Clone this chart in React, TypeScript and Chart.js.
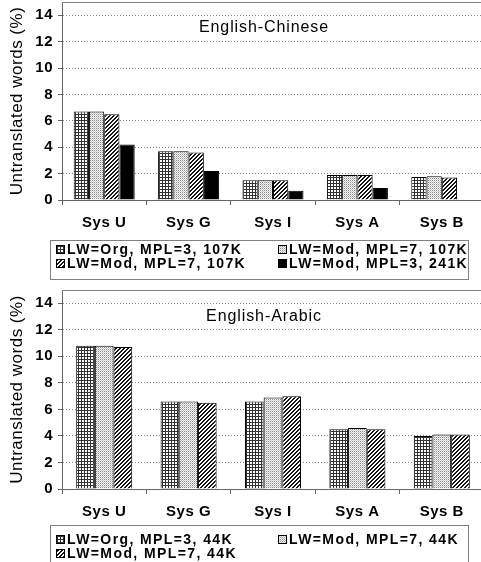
import React, { useEffect, useRef } from 'react';
import { Chart, registerables } from 'chart.js';
Chart.register(...registerables);

const categories = ['Sys U', 'Sys G', 'Sys I', 'Sys A', 'Sys B'];
const yTicks = [0, 2, 4, 6, 8, 10, 12, 14];
const yMax = 15;
const yTitle = 'Untranslated words (%)';

const zhTitle = 'English-Chinese';
const zhLabels = ['LW=Org, MPL=3, 107K', 'LW=Mod, MPL=7, 107K', 'LW=Mod, MPL=7, 107K', 'LW=Mod, MPL=3, 241K'];
const zhOrg3 = [6.7, 3.7, 1.5, 1.9, 1.75];
const zhMod7a = [6.7, 3.7, 1.5, 1.9, 1.8];
const zhMod7b = [6.5, 3.6, 1.5, 1.9, 1.7];
const zhMod3big = [4.2, 2.2, 0.7, 0.9, null];

const arTitle = 'English-Arabic';
const arLabels = ['LW=Org, MPL=3, 44K', 'LW=Mod, MPL=7, 44K', 'LW=Mod, MPL=7, 44K'];
const arOrg3 = [10.8, 6.6, 6.6, 4.5, 4.0];
const arMod7a = [10.8, 6.6, 6.9, 4.6, 4.1];
const arMod7b = [10.7, 6.5, 7.0, 4.5, 4.1];

const FONT = "'Liberation Sans', Arial, sans-serif";

function makePattern(kind: string): CanvasPattern | string {
  if (kind === 'solid') return '#000';
  const c = document.createElement('canvas');
  const size = kind === 'grid' ? 3 : kind === 'dots' ? 2 : 4;
  c.width = size; c.height = size;
  const ctx = c.getContext('2d')!;
  const img = ctx.createImageData(size, size);
  for (let y = 0; y < size; y++) {
    for (let x = 0; x < size; x++) {
      let v = 255;
      if (kind === 'grid') v = (x === 0 || y === 0) ? 50 : 255;
      else if (kind === 'dots') v = (x === 0 && y === 0) ? 140 : (x === 1 && y === 1) ? 200 : 245;
      else if (kind === 'diag') v = ((x + y) % 4 === 0 || (x + y) % 4 === 1) ? 20 : 255;
      const i = (y * size + x) * 4;
      img.data[i] = v; img.data[i + 1] = v; img.data[i + 2] = v; img.data[i + 3] = 255;
    }
  }
  ctx.putImageData(img, 0, 0);
  const p = ctx.createPattern(c, 'repeat');
  return p || '#888';
}

type PanelProps = {
  top: number;
  height: number;
  padTop: number;
  padBottom: number;
  title: string;
  titleY: number;
  labels: string[];
  series: (number | null)[][];
  kinds: string[];
  catPct: number;
  legendBox: { x: number; y: number; w: number; h: number };
  legendCols: number[];
  legendRows: number[];
};

function Panel(props: PanelProps) {
  const ref = useRef<HTMLCanvasElement>(null);
  useEffect(() => {
    const canvas = ref.current!;
    const fills = props.kinds.map(makePattern);
    const overlay = {
      id: 'overlay',
      beforeDraw(chart: any) {
        chart.ctx.letterSpacing = '0.5px';
      },
      afterDraw(chart: any) {
        const ctx = chart.ctx as CanvasRenderingContext2D;
        const a = chart.chartArea;
        ctx.save();
        // top frame
        ctx.strokeStyle = '#808080';
        ctx.lineWidth = 1;
        ctx.beginPath();
        ctx.moveTo(a.left, Math.round(a.top) + 0.5);
        ctx.lineTo(a.right, Math.round(a.top) + 0.5);
        ctx.stroke();
        // title
        ctx.fillStyle = '#000';
        ctx.font = `16px ${FONT}`;
        (ctx as any).letterSpacing = '0.9px';
        ctx.textAlign = 'center';
        ctx.textBaseline = 'middle';
        ctx.fillText(props.title, 264, props.titleY);
        // legend
        const b = props.legendBox;
        ctx.fillStyle = '#fff';
        ctx.fillRect(b.x, b.y, b.w, b.h);
        ctx.strokeStyle = '#808080';
        ctx.strokeRect(b.x + 0.5, b.y + 0.5, b.w, b.h);
        ctx.font = `bold 14px ${FONT}`;
        (ctx as any).letterSpacing = '1.4px';
        ctx.textAlign = 'left';
        props.labels.forEach((lab, i) => {
          const sx = props.legendCols[i % 2];
          const sy = props.legendRows[Math.floor(i / 2)];
          ctx.fillStyle = fills[i] as any;
          ctx.fillRect(sx, sy - 4, 9, 9);
          ctx.strokeStyle = '#000';
          ctx.strokeRect(sx + 0.5, sy - 3.5, 8, 8);
          ctx.fillStyle = '#000';
          ctx.fillText(lab, sx + 11, sy + 1);
        });
        ctx.restore();
        (ctx as any).letterSpacing = '0px';
      },
    };
    const chart = new Chart(canvas, {
      type: 'bar',
      data: {
        labels: categories,
        datasets: props.series.map((d, i) => ({
          label: props.labels[i],
          data: d,
          backgroundColor: fills[i] as any,
          borderColor: '#000',
          borderWidth: 1,
          categoryPercentage: props.catPct,
          barPercentage: 1,
        })),
      },
      options: {
        responsive: false,
        animation: false,
        layout: { padding: { left: 0, top: props.padTop, right: 6, bottom: props.padBottom } },
        plugins: {
          legend: { display: false },
          title: { display: false },
          tooltip: { enabled: false },
        },
        scales: {
          x: {
            type: 'category',
            grid: { offset: true, drawOnChartArea: false, drawTicks: true, tickLength: 5, color: '#666', tickColor: '#666' },
            border: { color: '#666', width: 1 },
            ticks: { color: '#000', font: { family: FONT, size: 15, weight: 'bold' }, padding: 9, maxRotation: 0, autoSkip: false },
            afterFit: (s: any) => { s.height = 40; s.paddingLeft = 0; s.paddingRight = 0; },
          },
          y: {
            min: 0,
            max: yMax,
            afterBuildTicks: (s: any) => { s.ticks = yTicks.map((v) => ({ value: v })); },
            grid: {
              color: (c: any) => (c.tick && c.tick.value === 0 ? 'rgba(0,0,0,0)' : '#888'),
              tickColor: '#666',
              tickLength: 4,
              lineWidth: 1,
              tickBorderDash: [],
            },
            border: { color: '#666', width: 1, dash: [1, 2] },
            ticks: { color: '#000', font: { family: FONT, size: 15, weight: 'bold' }, padding: 5 },
            title: { display: true, text: yTitle, color: '#000', font: { family: FONT, size: 17 }, padding: { top: 7, bottom: 0 } },
            afterFit: (s: any) => { s.width = 62; s.paddingTop = 0; s.paddingBottom = 0; },
          },
        },
      } as any,
      plugins: [overlay],
    });
    return () => chart.destroy();
  }, []);
  return (
    <canvas
      ref={ref}
      width={490}
      height={props.height}
      style={{ position: 'absolute', left: 0, top: props.top, width: 490, height: props.height, display: 'block' }}
    />
  );
}

export default function App() {
  return (
    <div style={{ position: 'fixed', left: 0, top: 0, width: 481, height: 562, overflow: 'hidden', background: '#fff' }}>
      <Panel
        top={0}
        height={285}
        padTop={2}
        padBottom={45}
        title={zhTitle}
        titleY={28}
        labels={zhLabels}
        series={[zhOrg3, zhMod7a, zhMod7b, zhMod3big]}
        kinds={['grid', 'dots', 'diag', 'solid']}
        catPct={0.723}
        legendBox={{ x: 50, y: 240, w: 418, h: 39 }}
        legendCols={[56, 278]}
        legendRows={[249, 263]}
      />
      <Panel
        top={287}
        height={290}
        padTop={3}
        padBottom={48}
        title={arTitle}
        titleY={30}
        labels={arLabels}
        series={[arOrg3, arMod7a, arMod7b]}
        kinds={['grid', 'dots', 'diag']}
        catPct={0.664}
        legendBox={{ x: 50, y: 238, w: 418, h: 39 }}
        legendCols={[56, 278]}
        legendRows={[252, 266]}
      />
    </div>
  );
}
